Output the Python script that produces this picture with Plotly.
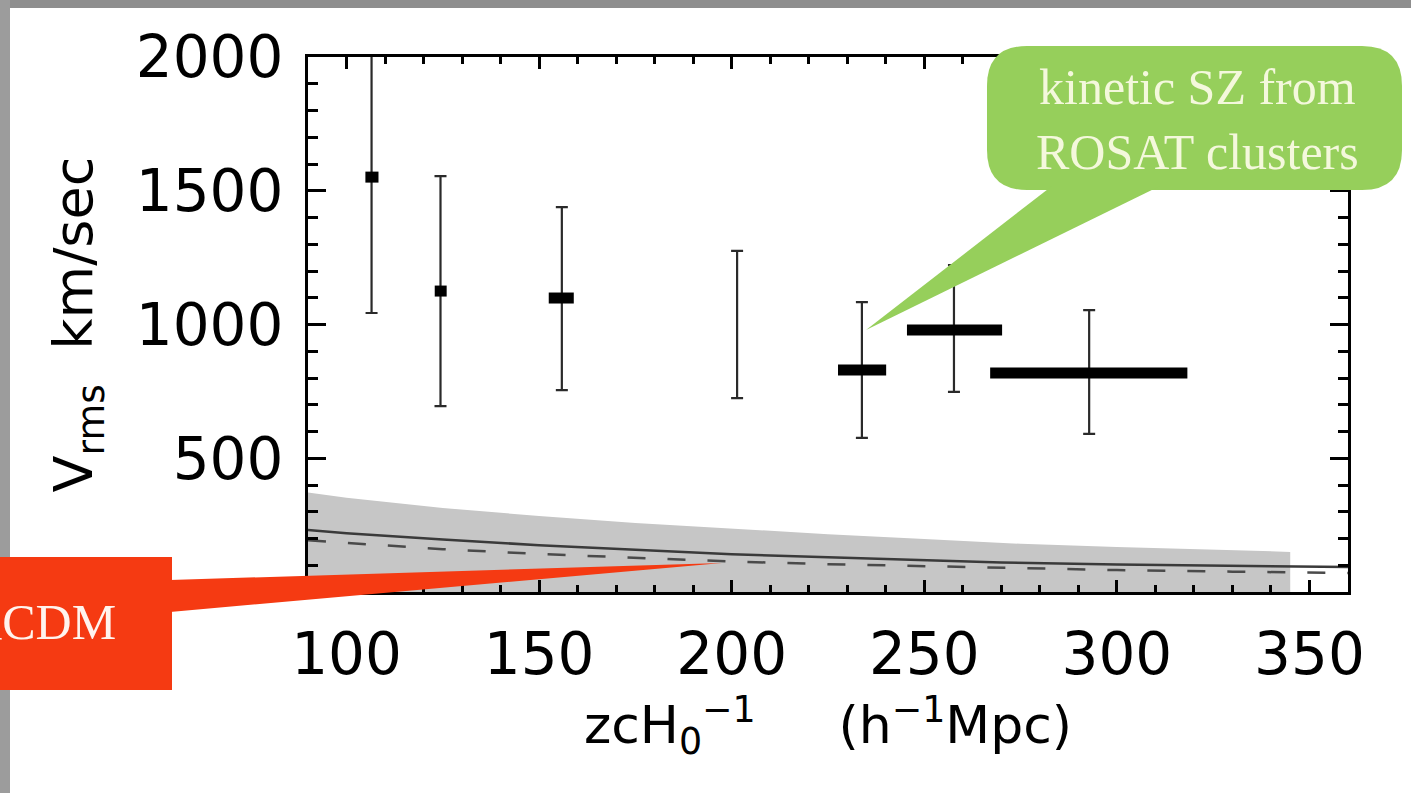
import plotly.graph_objects as go

# ---------------- data ----------------
x_center = [106.5, 124.4, 155.9, 201.4, 233.8, 257.7, 292.8]
x_low = [104.9, 122.9, 152.5, 201.4, 227.6, 245.5, 267.1]
x_high = [108.3, 126.0, 159.0, 201.4, 240.1, 270.2, 318.3]
v_rms = [1551, 1125, 1099, 1000, 830, 979, 819]
v_upper = [2400, 1555, 1439, 1275, 1084, 1222, 1054]
v_lower = [1043, 695, 755, 725, 576, 748, 591]

band_x = [90, 100, 125, 150, 175, 200, 225, 250, 275, 300, 325, 345]
band_top = [372, 352, 314, 284, 258, 236, 216, 198, 180, 168, 157, 150]

model_x = [90, 100, 125, 150, 175, 200, 225, 250, 270, 300, 330, 360]
model_solid = [232, 220, 196, 175, 158, 141, 130, 118, 110, 103, 97, 93]
model_dashed = [193, 183, 160, 142, 128, 114, 104, 96, 90, 82, 76, 71]

x_ticks = [100, 150, 200, 250, 300, 350]
y_ticks = [500, 1000, 1500, 2000]

# ---------------- geometry helpers for decorations ----------------
W_FIG, H_FIG = 1411, 793
L, R, T, B = 308, 1348, 57, 592
PW, PH = R - L, B - T


def px(x):
    return (x - L) / PW


def py(y):
    return (B - y) / PH


def path(points):
    return "M " + " L ".join(f"{px(a):.5f},{py(b):.5f}" for a, b in points) + " Z"


def rounded_rect(x0, y0, x1, y1, r):
    pts = [
        f"M {px(x0 + r):.5f},{py(y0):.5f}",
        f"L {px(x1 - r):.5f},{py(y0):.5f}",
        f"Q {px(x1):.5f},{py(y0):.5f} {px(x1):.5f},{py(y0 + r):.5f}",
        f"L {px(x1):.5f},{py(y1 - r):.5f}",
        f"Q {px(x1):.5f},{py(y1):.5f} {px(x1 - r):.5f},{py(y1):.5f}",
        f"L {px(x0 + r):.5f},{py(y1):.5f}",
        f"Q {px(x0):.5f},{py(y1):.5f} {px(x0):.5f},{py(y1 - r):.5f}",
        f"L {px(x0):.5f},{py(y0 + r):.5f}",
        f"Q {px(x0):.5f},{py(y0):.5f} {px(x0 + r):.5f},{py(y0):.5f}",
        "Z",
    ]
    return " ".join(pts)


fig = go.Figure()

# gray band
fig.add_trace(go.Scatter(
    x=band_x + [band_x[-1], band_x[0]],
    y=band_top + [0, 0],
    fill="toself", fillcolor="#C6C6C6", line=dict(width=0),
    mode="lines", hoverinfo="skip"))

# model curves
fig.add_trace(go.Scatter(x=model_x, y=model_solid, mode="lines",
                         line=dict(color="#3A3A3A", width=2.5)))
fig.add_trace(go.Scatter(x=model_x, y=model_dashed, mode="lines",
                         line=dict(color="#4A4A4A", width=2.5, dash="18px,22px")))

# error bars
fig.add_trace(go.Scatter(
    x=x_center, y=v_rms, mode="markers",
    marker=dict(size=1, color="rgba(0,0,0,0)"),
    error_y=dict(type="data", symmetric=False,
                 array=[u - v for u, v in zip(v_upper, v_rms)],
                 arrayminus=[v - lo for v, lo in zip(v_rms, v_lower)],
                 color="#2A2A2A", thickness=2.2, width=6)))

# horizontal bars (x extent)
hx, hy = [], []
for lo, hi, v in zip(x_low, x_high, v_rms):
    hx += [lo, hi, None]
    hy += [v, v, None]
fig.add_trace(go.Scatter(x=hx, y=hy, mode="lines",
                         line=dict(color="black", width=11)))

tickfont = dict(family="DejaVu Sans", size=58, color="black")

fig.update_xaxes(
    range=[90, 360], tickvals=x_ticks, ticktext=[str(v) for v in x_ticks],
    ticks="inside", ticklen=12, tickwidth=3, tickcolor="black",
    showline=True, linewidth=3, linecolor="black", mirror="ticks",
    showgrid=False, zeroline=False, tickfont=tickfont, ticklabelstandoff=9,
    minor=dict(dtick=10, tick0=0, ticks="inside", ticklen=7, tickwidth=3,
               tickcolor="black", showgrid=False),
    title=dict(text="zcH<sub>0</sub><sup>−1</sup>\u00a0\u00a0\u00a0\u00a0 (h<sup>−1</sup>Mpc)",
               font=dict(family="DejaVu Sans", size=52, color="black"), standoff=8),
)
fig.update_yaxes(
    range=[0, 2000], tickvals=y_ticks, ticktext=[str(v) for v in y_ticks],
    ticks="inside", ticklen=18, tickwidth=3, tickcolor="black",
    showline=True, linewidth=3, linecolor="black", mirror="ticks",
    showgrid=False, zeroline=False, tickfont=tickfont, ticklabelstandoff=10,
    minor=dict(dtick=100, tick0=0, ticks="inside", ticklen=10, tickwidth=3,
               tickcolor="black", showgrid=False),
    title=dict(text="V<sub>rms</sub>\u00a0 km/sec",
               font=dict(family="DejaVu Sans", size=54, color="black"), standoff=26),
)

RED = "#F53A12"
GREEN = "#96CF5B"
shapes = [
    # slide frame
    dict(type="rect", xref="paper", yref="paper", x0=px(0), x1=px(W_FIG), y0=py(0), y1=py(8),
         fillcolor="#8E8E8E", line=dict(width=0), layer="above"),
    dict(type="rect", xref="paper", yref="paper", x0=px(0), x1=px(10), y0=py(0), y1=py(H_FIG),
         fillcolor="#9C9C9C", line=dict(width=0), layer="above"),
    # red callout
    dict(type="rect", xref="paper", yref="paper", x0=px(-5), x1=px(172), y0=py(557), y1=py(690),
         fillcolor=RED, line=dict(width=0), layer="above"),
    dict(type="path", xref="paper", yref="paper",
         path=path([(170, 580), (722, 563), (170, 612)]),
         fillcolor=RED, line=dict(width=0), layer="above"),
    # green callout
    dict(type="path", xref="paper", yref="paper",
         path=rounded_rect(987, 46, 1402, 190, 40),
         fillcolor=GREEN, line=dict(width=0), layer="above"),
    dict(type="path", xref="paper", yref="paper",
         path=path([(1052, 186), (1160, 186), (866, 330)]),
         fillcolor=GREEN, line=dict(width=0), layer="above"),
]

annotations = [
    dict(xref="paper", yref="paper", x=px(1197), y=py(120), xanchor="center", yanchor="middle",
         text="kinetic SZ from<br>ROSAT clusters", showarrow=False,
         font=dict(family="Liberation Serif", size=50, color="#F4F8DC")),
    dict(xref="paper", yref="paper", x=px(118), y=py(622), xanchor="right", yanchor="middle",
         text="ΛCDM", showarrow=False,
         font=dict(family="Liberation Serif", size=50, color="#FFF4EE")),
]

fig.update_layout(
    width=W_FIG, height=H_FIG,
    margin=dict(l=L, r=W_FIG - R, t=T, b=H_FIG - B),
    paper_bgcolor="white", plot_bgcolor="white",
    showlegend=False, shapes=shapes, annotations=annotations,
)

fig.write_html("out.html")
